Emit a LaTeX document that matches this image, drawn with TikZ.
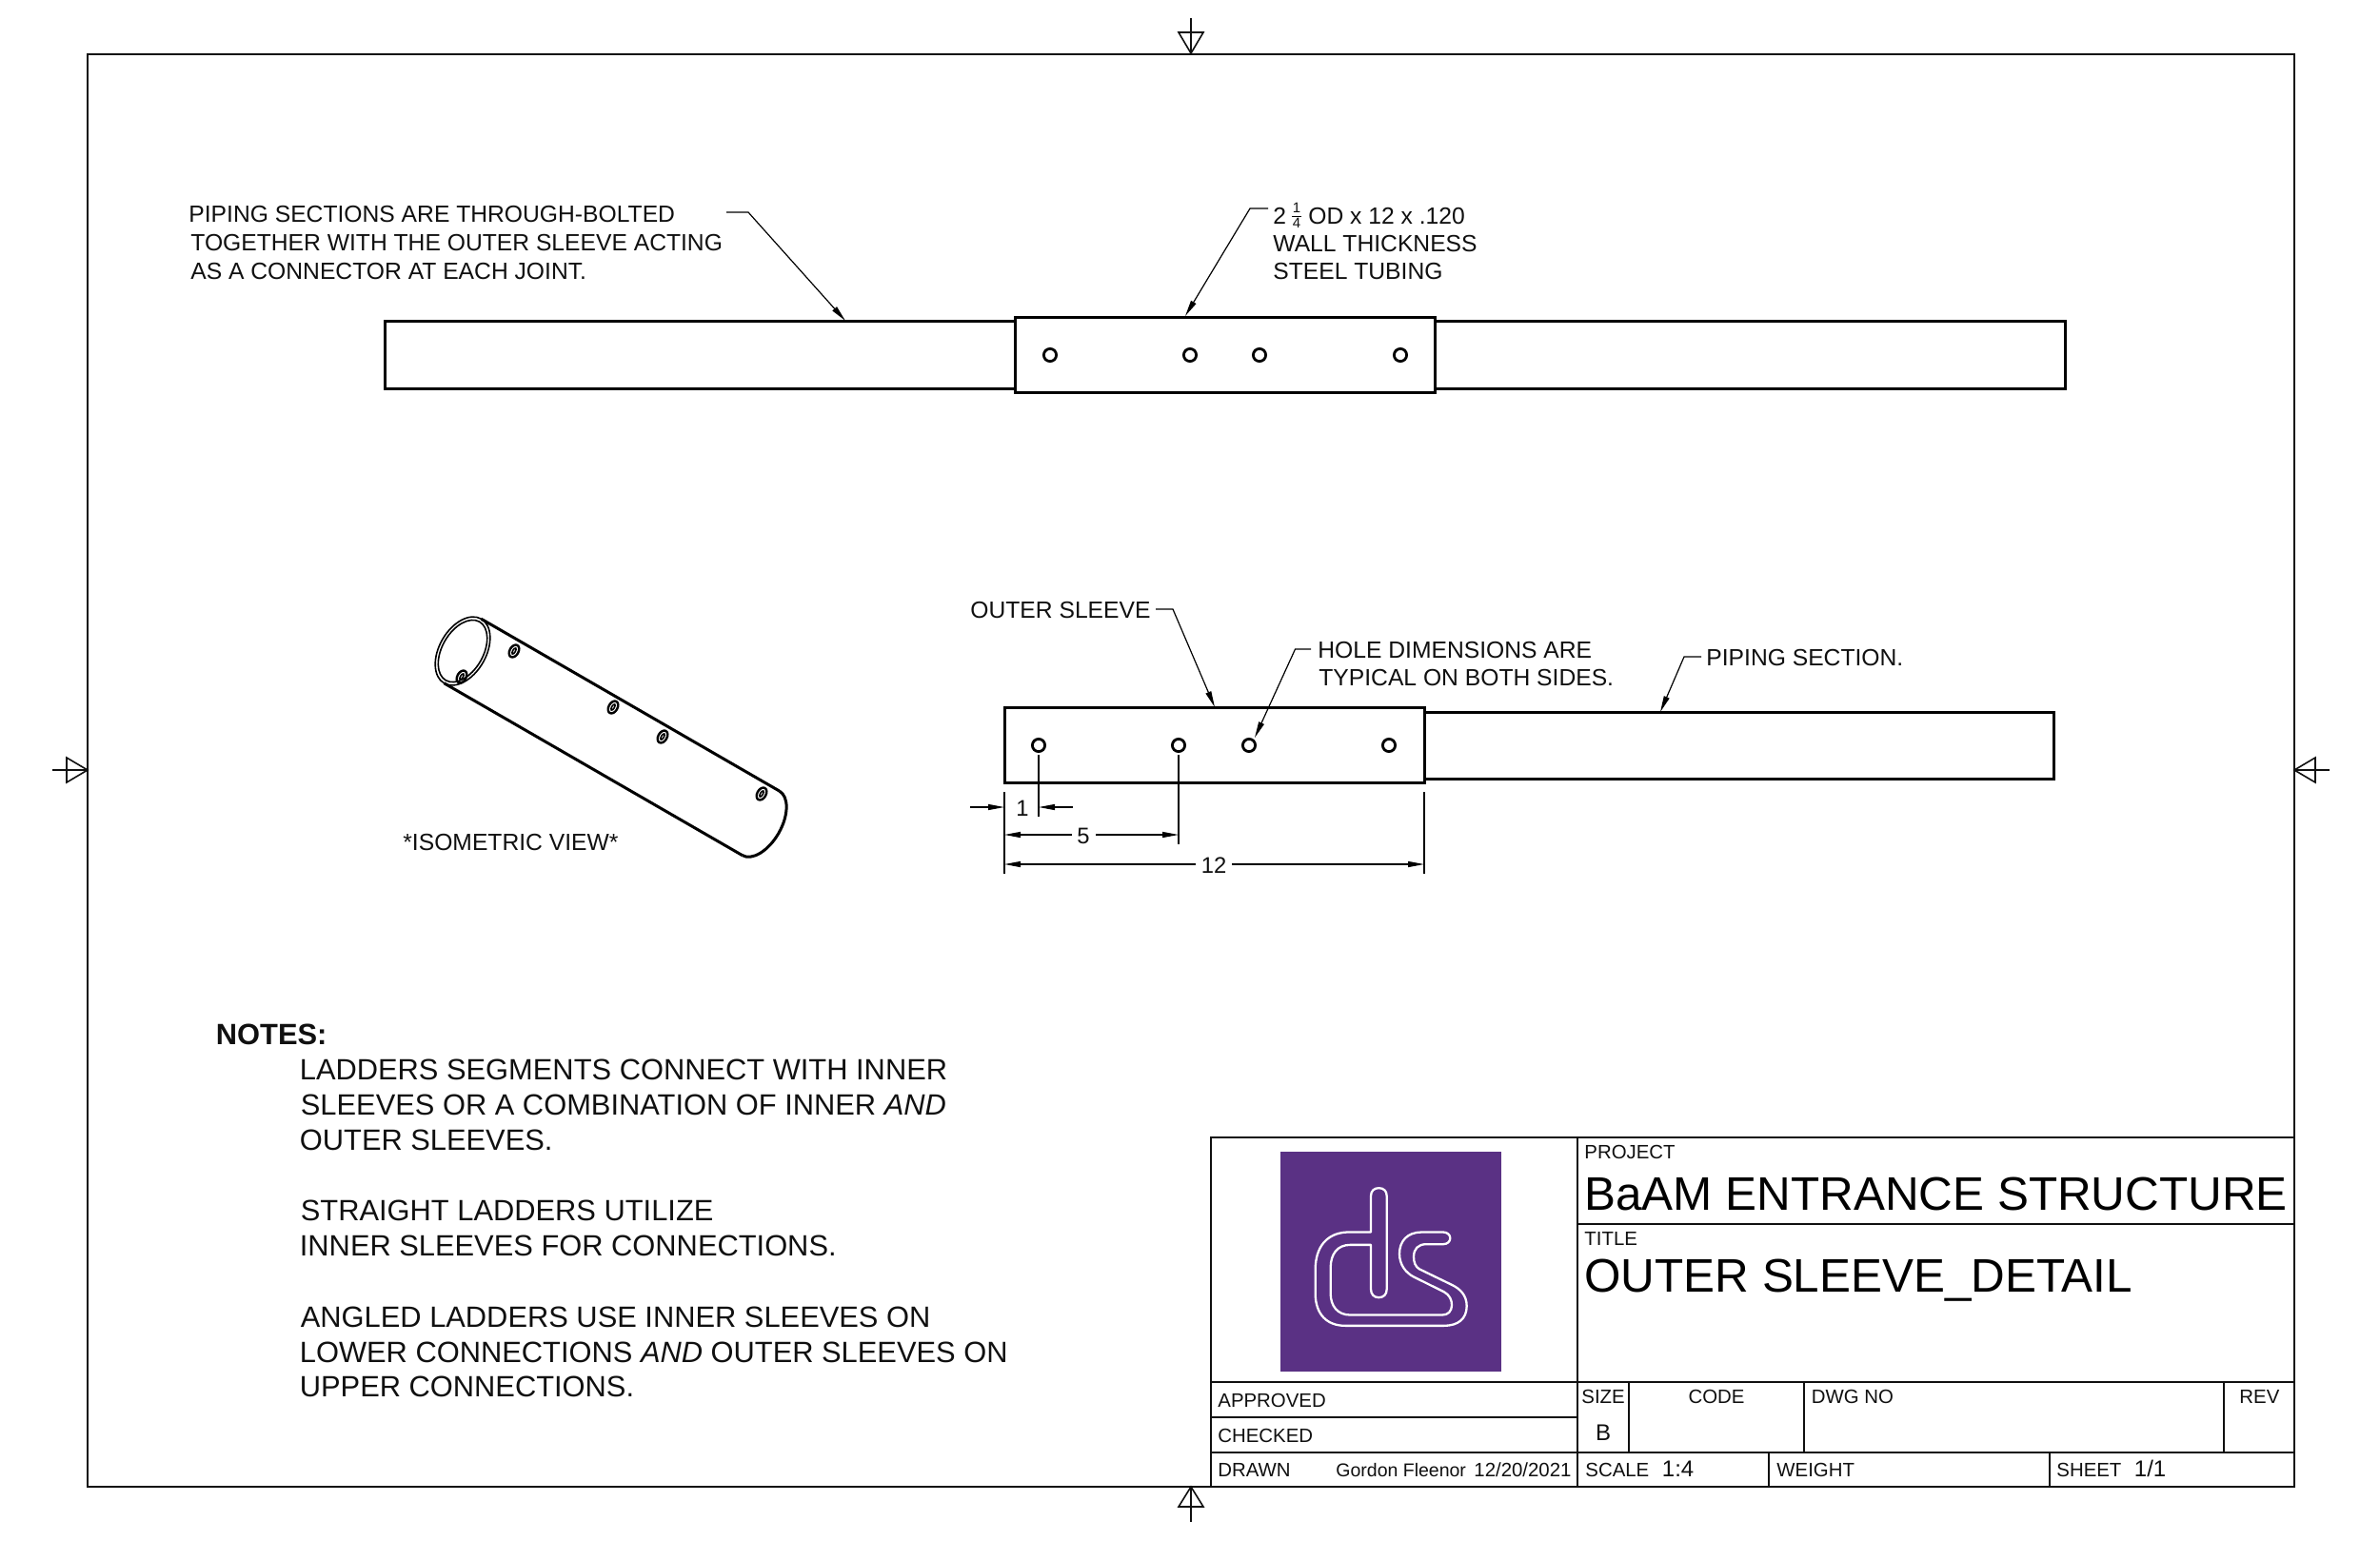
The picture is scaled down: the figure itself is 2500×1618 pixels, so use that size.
\documentclass[tikz,border=0pt]{standalone}
\usepackage{fontspec}
\setmainfont{Liberation Sans}
\usetikzlibrary{arrows.meta}
\definecolor{ink}{HTML}{101010}
\definecolor{dspurple}{HTML}{5A3184}
\newcommand{\fpx}[1]{\fontsize{#1pt}{#1pt}\selectfont}
\tikzset{
  x=0.5pt,y=-0.5pt,
  frameline/.style={draw=ink,line width=1pt},
  blockline/.style={draw=ink,line width=1pt},
  partline/.style={draw=black,line width=1.5pt},
  holeline/.style={draw=black,line width=1.4pt},
  regline/.style={draw=ink,line width=0.8pt},
  leader/.style={draw=black,line width=0.6pt,-{Triangle[length=8.5pt,width=3pt]}},
  plainline/.style={draw=black,line width=0.6pt},
  lbl/.style={anchor=base west,inner sep=0pt,font=\fpx{12.33},text=ink},
  note/.style={anchor=base west,inner sep=0pt,font=\fpx{15.42},text=ink},
  small/.style={anchor=base west,inner sep=0pt,font=\fpx{10.2},text=ink},
  mid/.style={anchor=base west,inner sep=0pt,font=\fpx{12},text=ink},
  big/.style={anchor=base west,inner sep=0pt,font=\fpx{24.7},text=black},
  dimtext/.style={anchor=base,inner sep=0pt,font=\fpx{11.9},text=ink},
}
\begin{document}
\begin{tikzpicture}
\useasboundingbox[fill=white] (0,0) rectangle (2500,1618);
% sheet frame
\draw[frameline] (92,56.5) rectangle (2410,1562);
% registration marks
\draw[regline] (1251,19) -- (1251,56);
\draw[regline] (1238,34) -- (1264,34) -- (1251,56) -- cycle;
\draw[regline] (1251,1562) -- (1251,1599);
\draw[regline] (1238,1583) -- (1264,1583) -- (1251,1562) -- cycle;
\draw[regline] (55,809) -- (92,809);
\draw[regline] (70,796) -- (70,822) -- (92,809) -- cycle;
\draw[regline] (2410,809) -- (2447,809);
\draw[regline] (2432,796) -- (2432,822) -- (2410,809) -- cycle;

% upper assembly
\draw[partline] (1066,337) -- (404,337) -- (404,408) -- (1066,408);
\draw[partline] (1507,337) -- (2169,337) -- (2169,408) -- (1507,408);
\draw[partline] (1066,333) rectangle (1507,412);
\foreach \hx in {1103,1250,1323,1471} \draw[holeline] (\hx,373) circle[radius=6.6];
% upper leaders
\coordinate (ua) at (763,223); \coordinate (ub) at (786,223); \coordinate (uc) at (888,337);
\draw[leader] (ua) -- (ub) -- (uc);
\coordinate (va) at (1332,219); \coordinate (vb) at (1313,219); \coordinate (vc) at (1245,332);
\draw[leader] (va) -- (vb) -- (vc);
% upper labels
\node[lbl] (p1) at (198,233.5) {PIPING SECTIONS ARE THROUGH-BOLTED};
\node[lbl] (p2) at (200,263) {TOGETHER WITH THE OUTER SLEEVE ACTING};
\node[lbl] (p3) at (200,293) {AS A CONNECTOR AT EACH JOINT.};
\node[lbl] (t2a) at (1337,235) {2};
\node[anchor=base,inner sep=0pt,font=\fpx{7.5},text=ink] (t1n) at (1362,223) {1};
\draw[plainline] (1357,227.5) -- (1367,227.5);
\node[anchor=base,inner sep=0pt,font=\fpx{7.5},text=ink] (t1d) at (1362,239) {4};
\node[lbl] (t1) at (1374,235) {OD x 12 x .120};
\node[lbl] (t2) at (1337,264) {WALL THICKNESS};
\node[lbl] (t3) at (1337,293) {STEEL TUBING};

% isometric tube
\begin{scope}[shift={(486,684)},rotate=-30]
  \draw[partline] (0,-39) -- (361.6,-39);
  \draw[partline] (0,39) -- (361.6,39);
  \draw[partline] (361.6,39) arc[start angle=90,end angle=-90,x radius=21.5,y radius=39];
  \draw[holeline,line width=0.8pt] (0,0) circle[x radius=24.5,y radius=39];
  \draw[holeline,line width=0.8pt] (0,0) circle[x radius=21.5,y radius=35.5];
\end{scope}
\foreach \hx/\hy in {540/684,644/743,696/774,800/834,485/711}{
  \draw[holeline,line width=1.2pt,rotate around={-30:(\hx,\hy)}] (\hx,\hy) circle[x radius=4.6,y radius=7];
  \draw[holeline,line width=0.8pt,rotate around={-30:(\hx,\hy)}] (\hx,\hy) circle[x radius=1.4,y radius=3.5];
}
\node[lbl] (iso) at (423,893) {*ISOMETRIC VIEW*};

% lower assembly
\draw[partline] (1496,748) -- (2157,748) -- (2157,818) -- (1496,818);
\draw[partline] (1055,743) rectangle (1496,822);
\foreach \hx in {1091,1238,1312,1459} \draw[holeline] (\hx,783) circle[radius=6.6];
% lower leaders
\coordinate (wa) at (1214,640); \coordinate (wb) at (1232,640); \coordinate (wc) at (1276,743);
\draw[leader] (wa) -- (wb) -- (wc);
\coordinate (xa) at (1377,682); \coordinate (xb) at (1360.5,682); \coordinate (xc) at (1318,775);
\draw[leader] (xa) -- (xb) -- (xc);
\coordinate (ya) at (1787,690); \coordinate (yb) at (1769,690); \coordinate (yc) at (1744,748);
\draw[leader] (ya) -- (yb) -- (yc);
\node[lbl] (os) at (1019,649) {OUTER SLEEVE};
\node[lbl] (hd1) at (1384,691) {HOLE DIMENSIONS ARE};
\node[lbl] (hd2) at (1385,720) {TYPICAL ON BOTH SIDES.};
\node[lbl] (ps) at (1792,699) {PIPING SECTION.};

% dimensions
\coordinate (e1t) at (1055,832); \coordinate (e1b) at (1055,918);
\coordinate (e2t) at (1496,832); \coordinate (e2b) at (1496,918);
\coordinate (e3t) at (1091,793); \coordinate (e3b) at (1091,858);
\coordinate (e4t) at (1238,793); \coordinate (e4b) at (1238,887);
\draw[plainline] (e1t) -- (e1b);
\draw[plainline] (e2t) -- (e2b);
\draw[plainline] (e3t) -- (e3b);
\draw[plainline] (e4t) -- (e4b);
\node[dimtext] (d1) at (1074,857) {1};
\node[dimtext] (d5) at (1138,886) {5};
\node[dimtext] (d12) at (1275,917) {12};
\coordinate (d1a) at (1019,848); \coordinate (d1b) at (1055,848);
\coordinate (d1c) at (1127,848); \coordinate (d1d) at (1091,848);
\draw[leader] (d1a) -- (d1b);
\draw[leader] (d1c) -- (d1d);
\coordinate (d5a) at (1125.5,877); \coordinate (d5b) at (1055,877);
\coordinate (d5c) at (1151,877); \coordinate (d5d) at (1238,877);
\draw[leader] (d5a) -- (d5b);
\draw[leader] (d5c) -- (d5d);
\coordinate (d12a) at (1256,908); \coordinate (d12b) at (1055,908);
\coordinate (d12c) at (1294,908); \coordinate (d12d) at (1496,908);
\draw[leader] (d12a) -- (d12b);
\draw[leader] (d12c) -- (d12d);

% notes
\node[note,font=\fpx{15.42}\bfseries] (n0) at (226.5,1097.5) {NOTES:};
\node[note] (n1) at (314.5,1134) {LADDERS SEGMENTS CONNECT WITH INNER};
\node[note] (n2) at (315.5,1171) {SLEEVES OR A COMBINATION OF INNER \textit{AND}};
\node[note] (n3) at (314.5,1208) {OUTER SLEEVES.};
\node[note] (n4) at (315.5,1282) {STRAIGHT LADDERS UTILIZE};
\node[note] (n5) at (314.5,1319) {INNER SLEEVES FOR CONNECTIONS.};
\node[note] (n6) at (315.5,1394) {ANGLED LADDERS USE INNER SLEEVES ON};
\node[note] (n7) at (314.5,1431) {LOWER CONNECTIONS \textit{AND} OUTER SLEEVES ON};
\node[note] (n8) at (314.5,1467) {UPPER CONNECTIONS.};

% title block
\draw[blockline] (1272,1194.5) rectangle (2410,1562);
\draw[blockline] (1657,1194.5) -- (1657,1562);
\draw[blockline] (1657,1285.5) -- (2410,1285.5);
\draw[blockline] (1272,1452) -- (2410,1452);
\draw[blockline] (1272,1488.5) -- (1657,1488.5);
\draw[blockline] (1272,1525.5) -- (2410,1525.5);
\draw[blockline] (1711,1452) -- (1711,1525.5);
\draw[blockline] (1895,1452) -- (1895,1525.5);
\draw[blockline] (2336,1452) -- (2336,1525.5);
\draw[blockline] (1858,1525.5) -- (1858,1562);
\draw[blockline] (2152.5,1525.5) -- (2152.5,1562);
% logo
\fill[dspurple] (1345.3,1209.8) rectangle (1576.7,1440.5);
\begin{scope}[shift={(1250,1180.5)},x=0.16667pt,y=-0.16667pt]
\draw[white,line width=1.15pt,line join=round]
 (570,228) -- (570,342) -- (495,342)
 .. controls (430,345) and (395,390) .. (395,460)
 -- (395,540)
 .. controls (397,600) and (430,637) .. (490,637)
 -- (800,637)
 .. controls (845,637) and (872,615) .. (872,575)
 .. controls (872,540) and (850,520) .. (825,508)
 -- (722,458)
 .. controls (710,450) and (705,437) .. (705,420)
 .. controls (705,395) and (718,380) .. (745,380)
 -- (798,380)
 .. controls (810,380) and (820,372) .. (820,361)
 .. controls (820,350) and (810,342) .. (798,342)
 -- (730,342)
 .. controls (685,342) and (660,370) .. (660,410)
 .. controls (660,445) and (680,470) .. (705,483)
 -- (800,530)
 .. controls (818,540) and (825,555) .. (825,572)
 .. controls (825,592) and (812,603) .. (795,603)
 -- (505,603)
 .. controls (465,603) and (443,575) .. (443,535)
 -- (443,455)
 .. controls (443,410) and (465,382) .. (505,382)
 -- (570,382) -- (570,522)
 .. controls (570,538) and (580,548) .. (595,548)
 .. controls (610,548) and (620,538) .. (620,522)
 -- (620,228)
 .. controls (620,212) and (610,203) .. (595,203)
 .. controls (580,203) and (570,212) .. (570,228) -- cycle;
\end{scope}
% block labels
\node[small] (b1) at (1664,1217) {PROJECT};
\node[big] (b2) at (1664,1271) {BaAM ENTRANCE STRUCTURE};
\node[small] (b3) at (1664,1308) {TITLE};
\node[big] (b4) at (1664,1357) {OUTER SLEEVE\_DETAIL};
\node[small] (b5) at (1661,1474.5) {SIZE};
\node[small,anchor=base] (b6) at (1803,1474.5) {CODE};
\node[small] (b7) at (1902.5,1474.5) {DWG NO};
\node[small] (b8) at (2352,1474.5) {REV};
\node[mid,anchor=base] (b9) at (1684,1513) {B};
\node[small] (b10) at (1665,1551.5) {SCALE};
\node[mid] (b11) at (1745.5,1551.5) {1:4};
\node[small] (b12) at (1866,1551.5) {WEIGHT};
\node[small] (b13) at (2160,1551.5) {SHEET};
\node[mid] (b14) at (2241.5,1551.5) {1/1};
\node[small] (b15) at (1279,1478) {APPROVED};
\node[small] (b16) at (1279,1515) {CHECKED};
\node[small] (b17) at (1279,1551.5) {DRAWN};
\node[small,font=\fpx{9.75}] (b18) at (1403,1551.5) {Gordon Fleenor};
\node[small] (b19) at (1548,1551.5) {12/20/2021};
\end{tikzpicture}
\end{document}
